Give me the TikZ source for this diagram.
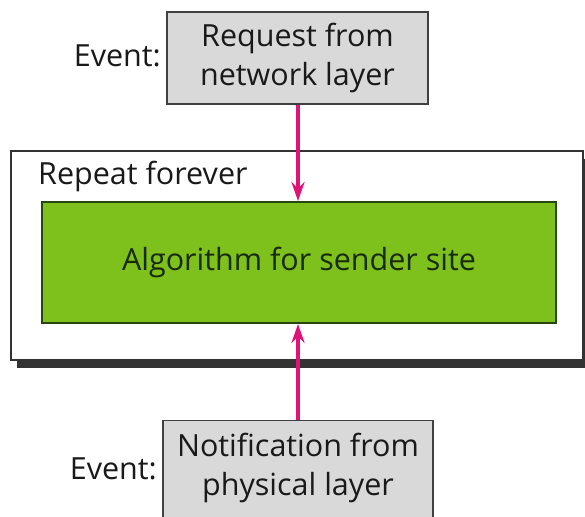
\documentclass[tikz,border=0pt]{standalone}
\usepackage{fontspec}
\setmainfont{Open Sans}
\usetikzlibrary{arrows.meta}
\definecolor{boxgray}{RGB}{217,217,217}
\definecolor{algogreen}{RGB}{126,192,28}
\definecolor{algoborder}{RGB}{40,70,15}
\definecolor{arrowmag}{RGB}{224,20,120}
\definecolor{txtdark}{RGB}{25,25,25}
\begin{document}
\begin{tikzpicture}[x=1pt,y=1pt,
  font=\fontsize{30.5}{39}\selectfont,
  eventbox/.style={draw=black!75, line width=1.4pt, fill=boxgray, align=center, inner sep=0pt, text=txtdark},
  algobox/.style={draw=algoborder, line width=1.8pt, fill=algogreen, text=algoborder!60!black, inner sep=0pt},
  outerbox/.style={draw=black!80, line width=1.3pt, fill=white, inner sep=0pt},
  evlabel/.style={text=txtdark, inner sep=0pt},
  flow/.style={draw=arrowmag, line width=3.5pt, -{Stealth[length=19pt,width=13pt]}}]
\useasboundingbox (0,0) rectangle (585,516);
\fill[white] (0,0) rectangle (585,516);
% shadow and outer box
\fill[black!80] (17,148) rectangle (589,357);
\node[outerbox, minimum width=572pt, minimum height=209pt] (outer) at (297,260.5) {};
\node[evlabel, anchor=base west] (rep) at (38,331) {Repeat forever};
% algorithm box
\node[algobox, minimum width=514pt, minimum height=121pt] (algo) at (299,253.5) {Algorithm for sender site};
% top event
\node[eventbox, minimum width=261pt, minimum height=92pt] (req) at (297.5,458) {Request from\\network layer};
\node[evlabel, anchor=east] (ev1) at (161,460) {Event:};
% bottom event
\node[eventbox, minimum width=270pt, minimum height=110pt, anchor=north] (phy) at (298,96) {};
\node[text=txtdark, align=center, inner sep=0pt, anchor=base] (phytxt) at (298,21) {Notification from\\physical layer};
\node[evlabel, anchor=east] (ev2) at (157,47) {Event:};
% arrows
\draw[flow] (req.south -| 298,0) -- (algo.north -| 298,0);
\draw[flow] (phy.north) -- (algo.south -| phy.north);
\end{tikzpicture}
\end{document}
